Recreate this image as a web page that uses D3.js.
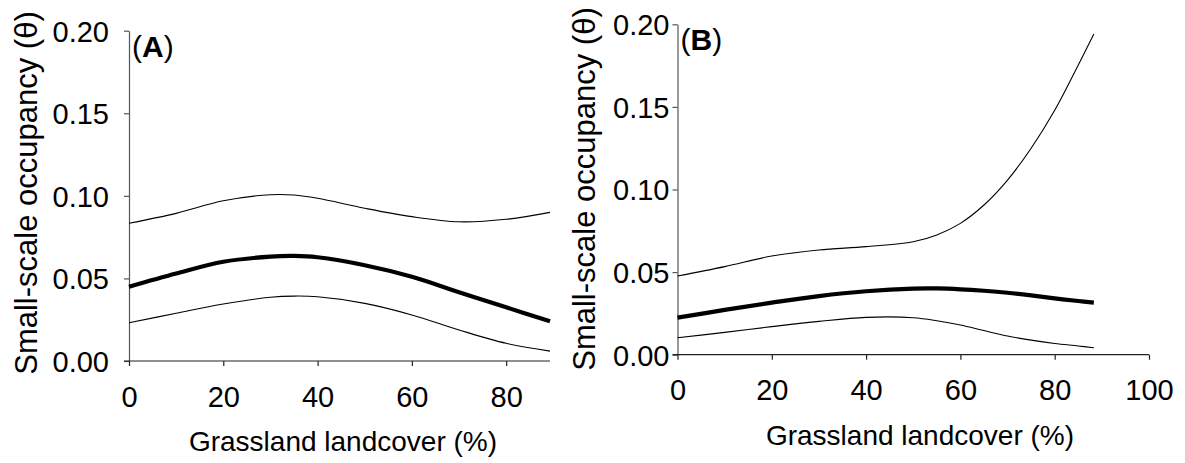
<!DOCTYPE html>
<html>
<head>
<meta charset="utf-8">
<script src="https://cdn.jsdelivr.net/npm/d3@7"></script>
<style>
  body { margin: 0; background: #fff; }
  text { font-family: "Liberation Sans", Arial, sans-serif; fill: #000; }
</style>
</head>
<body>
<svg width="1185" height="463"></svg>
<script>
// Panel A: grassland landcover (%) vs small-scale occupancy
const xA = [0, 10, 20, 30, 35, 40, 50, 60, 70, 80, 89.3];
const meanA = [0.045, 0.053, 0.0601, 0.0632, 0.0636, 0.0628, 0.058, 0.051, 0.0417, 0.0325, 0.0240];
const upperA = [0.0834, 0.0894, 0.097, 0.1007, 0.1005, 0.0985, 0.0925, 0.0874, 0.0843, 0.0858, 0.090];
const lowerA = [0.0232, 0.0289, 0.0345, 0.0386, 0.0393, 0.0389, 0.0349, 0.0279, 0.0188, 0.0107, 0.006];

// Panel B
const xB = [0, 10, 20, 30, 40, 50, 55, 60, 65, 70, 75, 80, 85, 88.3];
const meanB = [0.0224, 0.0271, 0.0315, 0.0355, 0.0384, 0.040, 0.0401, 0.0396, 0.0387, 0.0375, 0.0359, 0.0341, 0.0325, 0.0315];
const upperB = [0.0476, 0.0533, 0.0597, 0.0634, 0.0654, 0.0684, 0.0725, 0.0795, 0.0906, 0.1057, 0.125, 0.148, 0.1754, 0.1941];
const lowerB = [0.0103, 0.0135, 0.017, 0.0202, 0.0226, 0.0224, 0.0206, 0.018, 0.0146, 0.0113, 0.0088, 0.0068, 0.0053, 0.0042];

const yTicks = [0, 0.05, 0.10, 0.15, 0.20];
const xTicksA = [0, 20, 40, 60, 80];
const xTicksB = [0, 20, 40, 60, 80, 100];

const svg = d3.select("svg");

function drawPanel(opt) {
    const x = d3.scaleLinear().domain([0, opt.xMax]).range([opt.left, opt.right]);
    const y = d3.scaleLinear().domain([0, 0.2]).range([opt.bottom, opt.top]);
    const g = svg.append("g");

    // y axis
    const ya = g.append("g")
        .attr("transform", `translate(${opt.left},0)`)
        .call(d3.axisLeft(y).tickValues(yTicks).tickFormat(d3.format(".2f"))
            .tickSize(5).tickSizeOuter(0).tickPadding(opt.yPad));
    ya.selectAll("path, line").attr("stroke", "#555").attr("stroke-width", 1.2);
    ya.selectAll("text").attr("font-size", 29).attr("dy", "0.36em");

    // x axis
    const xa = g.append("g")
        .attr("transform", `translate(0,${opt.bottom})`)
        .call(d3.axisBottom(x).tickValues(opt.xTicks).tickSize(5).tickSizeOuter(0).tickPadding(20));
    xa.selectAll("path, line").attr("stroke", "#222").attr("stroke-width", 1.2);
    xa.select(".domain").attr("d", `M${opt.left - 5},0H${opt.right}`);
    xa.selectAll("text").attr("font-size", 29);

    // curves
    const line = d3.line()
        .x((d, i) => x(opt.xs[i]))
        .y(d => y(d))
        .curve(d3.curveCatmullRom);

    [[opt.upper, 1.1], [opt.lower, 1.1], [opt.mean, 4.2]].forEach(([vals, w]) => {
        g.append("path")
            .attr("d", line(vals))
            .attr("fill", "none")
            .attr("stroke", "#000")
            .attr("stroke-width", w);
    });

    // axis titles
    g.append("text")
        .attr("transform", `translate(${opt.yLabelX},${opt.yLabelY}) rotate(-90)`)
        .attr("text-anchor", "middle")
        .attr("font-size", 31)
        .text("Small-scale occupancy (θ)");

    g.append("text")
        .attr("x", opt.xLabelX)
        .attr("y", opt.bottom + 90)
        .attr("text-anchor", "middle")
        .attr("font-size", 28)
        .text("Grassland landcover (%)");

    // panel letter
    const t = g.append("text")
        .attr("x", opt.left + 3)
        .attr("y", opt.top + 26)
        .attr("font-size", 30);
    t.append("tspan").text("(");
    t.append("tspan").attr("font-weight", "bold").text(opt.letter);
    t.append("tspan").text(")");
}

drawPanel({
    letter: "A", xs: xA, mean: meanA, upper: upperA, lower: lowerA,
    xMax: 89.3, xTicks: xTicksA,
    left: 129, right: 550, top: 30.7, bottom: 361, yPad: 15,
    yLabelX: 37, yLabelY: 193, xLabelX: 343
});

drawPanel({
    letter: "B", xs: xB, mean: meanB, upper: upperB, lower: lowerB,
    xMax: 100, xTicks: xTicksB,
    left: 677.5, right: 1149, top: 24.3, bottom: 354.7, yPad: 3,
    yLabelX: 595, yLabelY: 189, xLabelX: 920
});
</script>
</body>
</html>
